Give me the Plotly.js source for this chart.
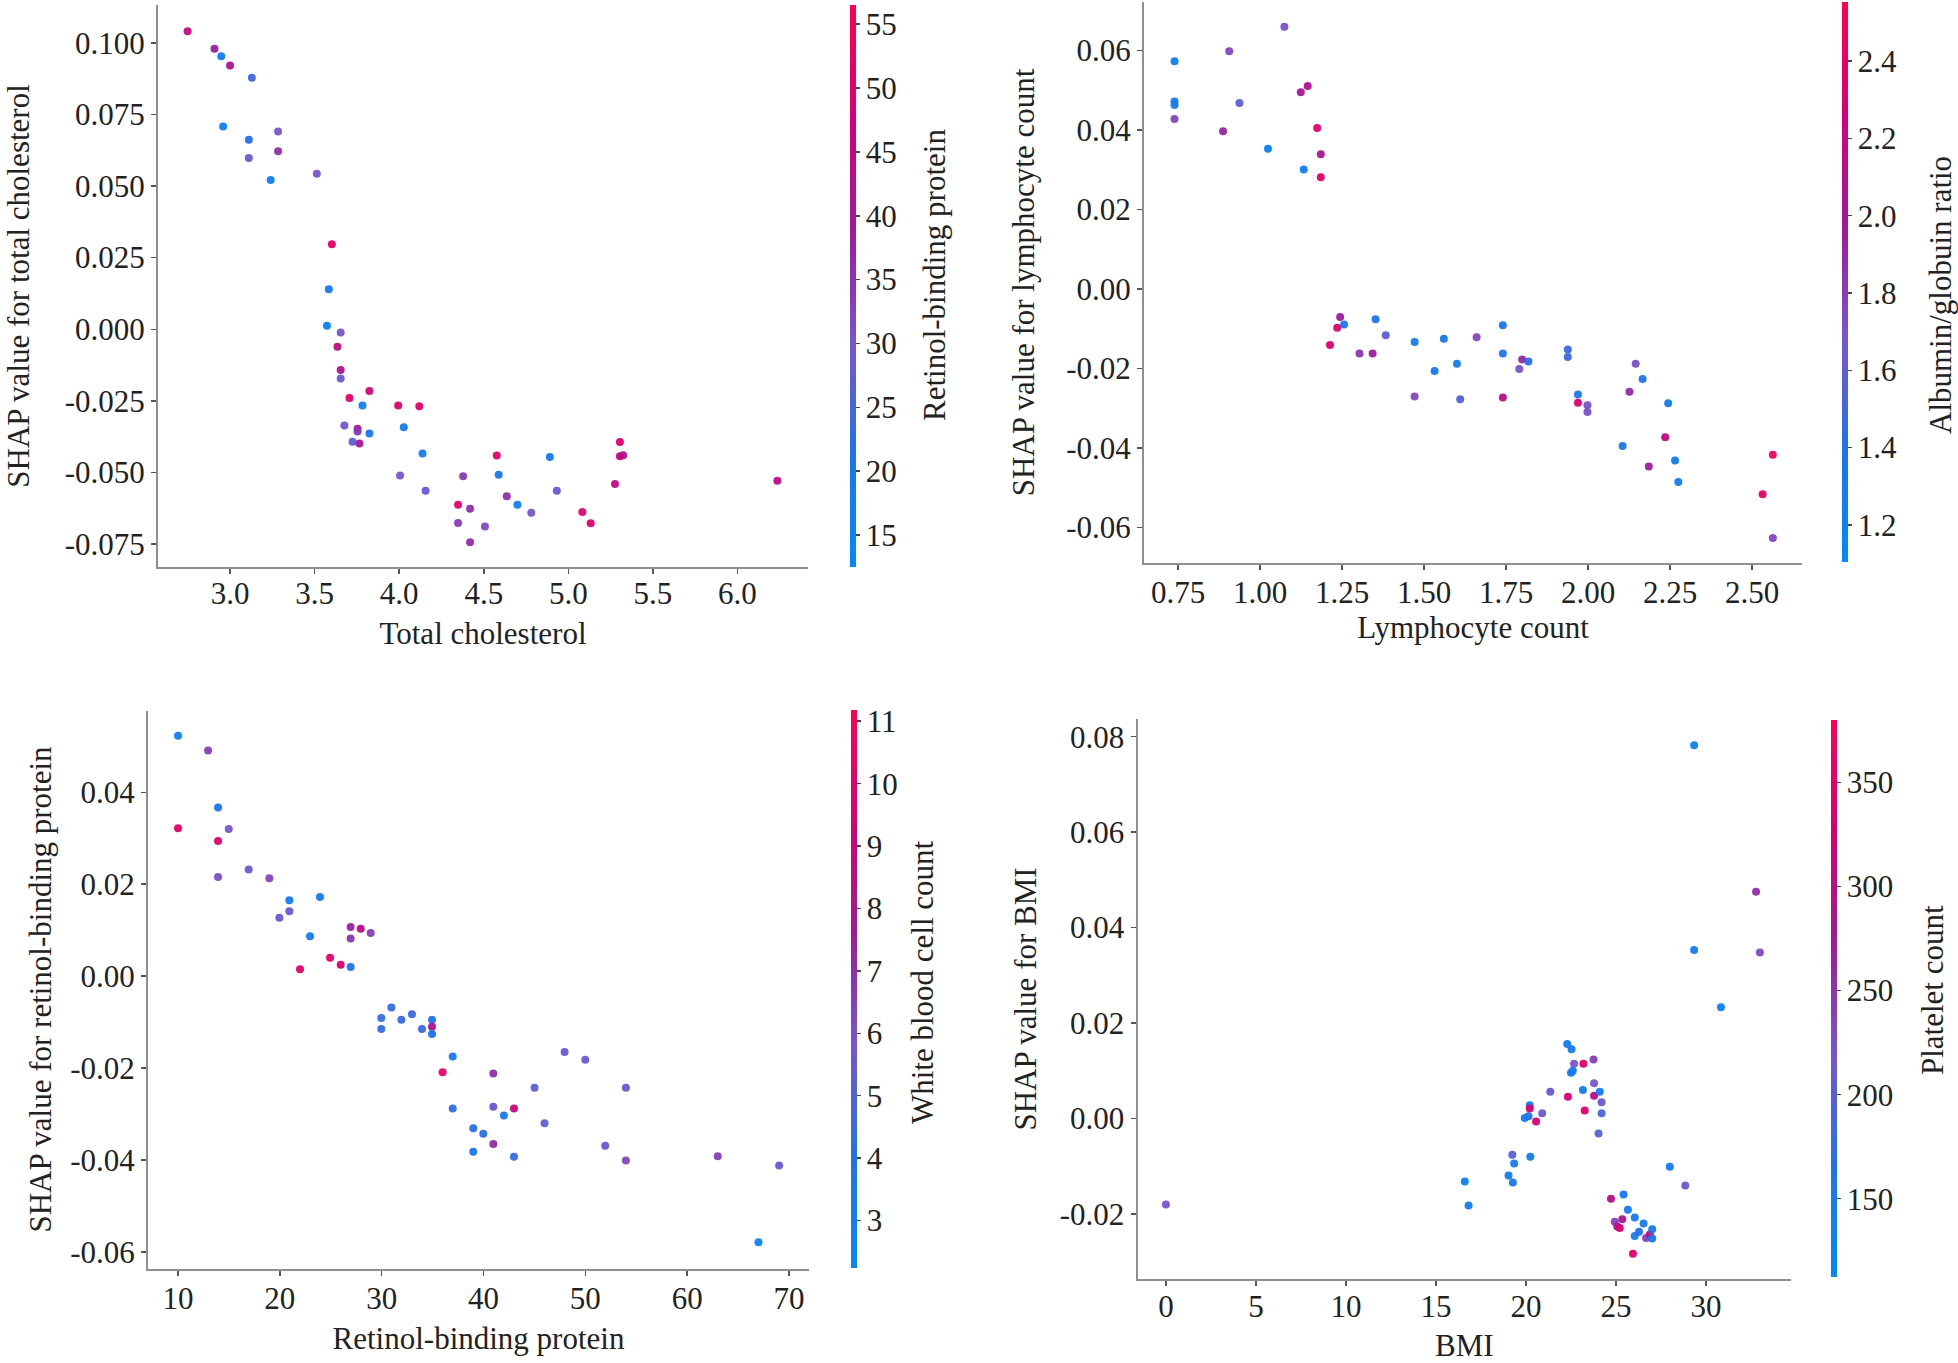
<!DOCTYPE html>
<html>
<head>
<meta charset="utf-8">
<script src="https://cdn.plot.ly/plotly-3.0.1.min.js"></script>
<style>html,body{margin:0;padding:0;background:#fff;}#chart{width:1958px;height:1363px;}</style>
</head>
<body>
<div id="chart"></div>
<script>
// ---------- Panel 1: Total cholesterol ----------
const tcX = [2.749,2.908,2.948,3.000,3.129,2.959,3.111,3.284,3.111,3.284,3.240,3.513,3.602,3.584,3.573,3.654,3.635,3.654,3.654,3.706,3.824,3.783,3.994,4.119,3.676,3.754,3.754,3.824,3.724,3.765,4.027,4.138,4.005,4.156,4.348,4.419,4.378,4.348,4.419,4.507,4.577,4.588,4.636,4.699,4.781,4.891,4.932,5.083,5.132,5.305,5.305,5.324,5.276,6.236];
const tcY = [0.1040,0.0979,0.0953,0.0921,0.0878,0.0708,0.0662,0.0690,0.0598,0.0621,0.0521,0.0543,0.0297,0.0140,0.0012,-0.0011,-0.0061,-0.0142,-0.0172,-0.0240,-0.0216,-0.0266,-0.0266,-0.0269,-0.0336,-0.0347,-0.0357,-0.0364,-0.0393,-0.0399,-0.0342,-0.0434,-0.0511,-0.0564,-0.0613,-0.0627,-0.0513,-0.0676,-0.0744,-0.0689,-0.0441,-0.0508,-0.0583,-0.0613,-0.0641,-0.0446,-0.0564,-0.0638,-0.0677,-0.0394,-0.0443,-0.0440,-0.0540,-0.0529];
const tcC = [45,38,17,40,25,16,22,30,28,36,16,30,50,19,16,30,44,42,28,50,46,18,50,50,30,40,34,20,27,40,18,18,30,28,50,36,34,34,36,32,50,19,36,17,30,19,29,50,50,50,46,42,44,44];

// ---------- Panel 2: Lymphocyte count ----------
const lyX = [0.739,0.739,0.739,0.739,0.906,0.937,0.887,1.074,1.024,1.133,1.124,1.145,1.174,1.185,1.185,1.244,1.235,1.256,1.213,1.303,1.343,1.352,1.383,1.471,1.471,1.532,1.560,1.600,1.610,1.660,1.740,1.740,1.740,1.790,1.799,1.818,1.938,1.938,1.969,1.969,1.998,1.998,2.105,2.126,2.145,2.166,2.185,2.235,2.244,2.265,2.275,2.532,2.563,2.563];
const lyY = [0.0573,0.0472,0.0463,0.0428,0.0598,0.0468,0.0397,0.0660,0.0353,0.0301,0.0495,0.0511,0.0405,0.0339,0.0281,-0.0070,-0.0097,-0.0089,-0.0141,-0.0162,-0.0162,-0.0076,-0.0116,-0.0133,-0.0270,-0.0206,-0.0125,-0.0188,-0.0277,-0.0121,-0.0091,-0.0162,-0.0273,-0.0201,-0.0177,-0.0182,-0.0152,-0.0171,-0.0265,-0.0286,-0.0292,-0.0309,-0.0395,-0.0258,-0.0188,-0.0226,-0.0446,-0.0373,-0.0287,-0.0431,-0.0485,-0.0516,-0.0417,-0.0626];
const lyC = [1.20,1.30,1.30,1.75,1.75,1.60,1.90,1.70,1.20,1.25,2.00,2.05,2.30,2.05,2.35,1.95,2.30,1.35,2.30,1.85,1.95,1.35,1.60,1.30,1.75,1.30,1.35,1.30,1.55,1.75,1.35,1.35,2.10,1.70,1.90,1.40,1.50,1.50,1.35,2.30,1.70,1.70,1.35,1.90,1.70,1.35,1.95,2.15,1.30,1.30,1.30,2.40,2.45,1.75];

// ---------- Panel 3: Retinol-binding protein ----------
const rbX = [10,12.95,10,13.93,14.98,13.93,13.93,16.94,18.97,20.93,20.93,19.95,23.94,22.96,21.98,24.93,25.97,26.95,26.95,27.94,26.95,28.92,29.96,29.96,30.95,31.93,32.97,33.96,34.94,34.94,34.94,36.97,35.98,36.97,38.99,38.99,39.98,40.96,40.96,40.96,42.0,42.99,42.99,45.01,45.99,47.96,49.99,51.95,53.98,53.98,63.0,67.0,69.03];
const rbY = [0.0523,0.0491,0.0322,0.0367,0.0320,0.0294,0.0216,0.0232,0.0213,0.0165,0.0141,0.0127,0.0172,0.0087,0.0015,0.0040,0.0025,0.0020,0.0107,0.0103,0.0082,0.0094,-0.0091,-0.0115,-0.0068,-0.0095,-0.0083,-0.0115,-0.0095,-0.0110,-0.0126,-0.0175,-0.0209,-0.0288,-0.0331,-0.0382,-0.0343,-0.0212,-0.0284,-0.0365,-0.0303,-0.0288,-0.0393,-0.0243,-0.0320,-0.0165,-0.0182,-0.0369,-0.0243,-0.0401,-0.0392,-0.0579,-0.0412];
const rbC = [3.0,6.5,10.0,3.8,5.8,10.0,6.0,5.5,6.3,3.3,5.4,5.5,3.1,3.4,10.0,10.0,9.5,3.8,7.3,8.5,6.8,6.5,4.5,4.5,4.5,4.5,4.6,4.6,4.0,8.0,4.0,3.5,10.3,4.3,4.2,3.8,4.2,7.0,5.5,7.0,3.6,9.0,4.5,5.3,5.3,5.5,5.5,5.5,5.5,6.3,6.5,3.0,5.5];

// ---------- Panel 4: BMI ----------
const bmX = [0,29.34,29.34,32.78,32.99,30.83,16.60,16.81,19.24,19.34,19.03,19.27,20.24,19.93,20.14,20.21,20.21,20.56,20.90,21.35,22.29,22.53,22.50,22.60,22.67,22.33,23.19,23.16,23.26,23.75,23.78,23.78,24.10,24.20,24.20,24.03,24.72,24.93,25.07,25.21,25.35,25.42,25.66,26.04,26.04,25.94,26.28,26.53,26.67,26.88,27.01,27.01,27.99,28.85];
const bmY = [-0.0180,0.0782,0.0353,0.0475,0.0348,0.0233,-0.0132,-0.0182,-0.0076,-0.0094,-0.0119,-0.0134,-0.0080,0.0001,0.0005,0.0028,0.0021,-0.0006,0.0011,0.0056,0.0156,0.0145,0.0096,0.0100,0.0115,0.0046,0.0115,0.0060,0.0017,0.0124,0.0074,0.0048,0.0056,0.0034,0.0011,-0.0031,-0.0168,-0.0216,-0.0226,-0.0229,-0.0211,-0.0159,-0.0191,-0.0207,-0.0246,-0.0283,-0.0237,-0.0220,-0.0250,-0.0243,-0.0232,-0.0251,-0.0101,-0.0140];
const bmC = [220,140,140,255,230,140,135,140,200,150,145,150,145,150,170,150,330,330,210,210,145,145,145,150,220,330,340,150,340,240,220,300,145,210,190,200,300,240,280,330,280,150,150,150,150,340,170,150,240,300,150,150,145,210];

// ---------- Tick labels ----------
const tcXTicks = [3.0,3.5,4.0,4.5,5.0,5.5,6.0];
const tcXText = ["3.0","3.5","4.0","4.5","5.0","5.5","6.0"];
const tcYTicks = [0.100,0.075,0.050,0.025,0,-0.025,-0.050,-0.075];
const tcYText = ["0.100","0.075","0.050","0.025","0.000","-0.025","-0.050","-0.075"];
const lyXTicks = [0.75,1.00,1.25,1.50,1.75,2.00,2.25,2.50];
const lyXText = ["0.75","1.00","1.25","1.50","1.75","2.00","2.25","2.50"];
const lyYTicks = [0.06,0.04,0.02,0,-0.02,-0.04,-0.06];
const lyYText = ["0.06","0.04","0.02","0.00","-0.02","-0.04","-0.06"];
const rbXTicks = [10,20,30,40,50,60,70];
const rbXText = ["10","20","30","40","50","60","70"];
const rbYTicks = [0.04,0.02,0,-0.02,-0.04,-0.06];
const rbYText = ["0.04","0.02","0.00","-0.02","-0.04","-0.06"];
const bmXTicks = [0,5,10,15,20,25,30];
const bmXText = ["0","5","10","15","20","25","30"];
const bmYTicks = [0.08,0.06,0.04,0.02,0,-0.02];
const bmYText = ["0.08","0.06","0.04","0.02","0.00","-0.02"];

const W = 1958, H = 1363;
const FONT = "Liberation Serif, Times New Roman, serif";
const FS = 31;
const SHAPSCALE = [
  [0.0, "rgb(0,138,250)"],
  [0.2, "rgb(30,115,235)"],
  [0.4, "rgb(120,85,205)"],
  [0.6, "rgb(160,25,155)"],
  [0.8, "rgb(215,0,118)"],
  [1.0, "rgb(255,0,82)"]
];

function px2fx(p){ return p / W; }
function py2fy(p){ return 1 - p / H; }

function cb(xPx, topPx, botPx, dtick, fmt){
  return {
    x: px2fx(xPx), xanchor: "left", y: py2fy(topPx), yanchor: "top",
    len: (botPx - topPx) / H, lenmode: "fraction",
    thickness: 6, outlinewidth: 0,
    ticks: "outside", ticklen: 4, tickwidth: 1.5, tickcolor: "#444",
    tick0: 0, dtick: dtick, tickformat: fmt,
    tickfont: {family: FONT, size: FS, color: "#222"},
    xpad: 0, ypad: 0
  };
}

function trace(x, y, c, xa, ya, cmin, cmax, colorbar){
  return {
    type: "scatter", mode: "markers", x: x, y: y, xaxis: xa, yaxis: ya,
    marker: {size: 8, color: c, cmin: cmin, cmax: cmax, colorscale: SHAPSCALE,
             showscale: true, colorbar: colorbar, opacity: 0.95, line: {width: 0}},
    hoverinfo: "x+y", showlegend: false
  };
}

const data = [
  trace(tcX, tcY, tcC, "x", "y", 12.5, 56.5, cb(850, 5, 567, 5, "d")),
  trace(lyX, lyY, lyC, "x2", "y2", 1.104, 2.553, cb(1842, 2, 562, 0.2, ".1f")),
  trace(rbX, rbY, rbC, "x3", "y3", 2.24, 11.18, cb(851, 710, 1268, 1, "d")),
  trace(bmX, bmY, bmC, "x4", "y4", 112.4, 380, cb(1831, 720, 1277, 50, "d"))
];

function xax(l, r, range, vals, text, title, anchor, lblOff, stand){
  return {
    domain: [px2fx(l), px2fx(r)], range: range, anchor: anchor,
    showline: true, linecolor: "#8f8f8f", linewidth: 2, zeroline: false, showgrid: false,
    ticks: "outside", ticklen: 5, tickwidth: 1.5, tickcolor: "#555",
    ticklabelstandoff: lblOff,
    tickmode: "array", tickvals: vals, ticktext: text,
    tickfont: {family: FONT, size: FS, color: "#222"},
    title: {text: title, font: {family: FONT, size: FS, color: "#222"}, standoff: stand}
  };
}
function yax(t, b, range, vals, text, title, anchor, stand){
  return {
    domain: [py2fy(b), py2fy(t)], range: range, anchor: anchor,
    showline: true, linecolor: "#8f8f8f", linewidth: 2, zeroline: false, showgrid: false,
    ticks: "outside", ticklen: 5, tickwidth: 1.5, tickcolor: "#555",
    tickmode: "array", tickvals: vals, ticktext: text,
    tickfont: {family: FONT, size: FS, color: "#222"},
    title: {text: title, font: {family: FONT, size: FS, color: "#222"}, standoff: stand}
  };
}

function cbTitle(text, xPx, yPx){
  return {
    text: text, xref: "paper", yref: "paper", x: px2fx(xPx), y: py2fy(yPx),
    xanchor: "center", yanchor: "middle", textangle: -90, showarrow: false,
    font: {family: FONT, size: FS, color: "#222"}
  };
}

const layout = {
  width: W, height: H,
  margin: {l: 0, r: 0, t: 0, b: 0, pad: 0},
  paper_bgcolor: "#ffffff", plot_bgcolor: "#ffffff",
  font: {family: FONT, size: FS, color: "#222"},
  xaxis:  xax(158, 808, [2.574, 6.417], tcXTicks, tcXText, "Total cholesterol", "y", -7, 12),
  yaxis:  yax(5, 567, [-0.083, 0.1132], tcYTicks, tcYText, "SHAP value for total cholesterol", "x", 26),
  xaxis2: xax(1144, 1802, [0.646, 2.652], lyXTicks, lyXText, "Lymphocyte count", "y2", -4, 6),
  yaxis2: yax(2, 563, [-0.0689, 0.0722], lyYTicks, lyYText, "SHAP value for lymphocyte count", "x2", 22),
  xaxis3: xax(148, 809, [7.05, 71.96], rbXTicks, rbXText, "Retinol-binding protein", "y3", -4, 13),
  yaxis3: yax(710.5, 1268.5, [-0.0636, 0.0578], rbYTicks, rbYText, "SHAP value for retinol-binding protein", "x3", 9),
  xaxis4: xax(1137.5, 1791, [-1.58, 34.72], bmXTicks, bmXText, "BMI", "y4", -6, 17),
  yaxis4: yax(719, 1279, [-0.0336, 0.0837], bmYTicks, bmYText, "SHAP value for BMI", "x4", 14),
  annotations: [
    cbTitle("Retinol-binding protein", 934, 275),
    cbTitle("Albumin/globuin ratio", 1940, 295),
    cbTitle("White blood cell count", 922, 982),
    cbTitle("Platelet count", 1932, 990)
  ]
};

Plotly.newPlot("chart", data, layout, {displayModeBar: false, staticPlot: true});
</script>
</body>
</html>
